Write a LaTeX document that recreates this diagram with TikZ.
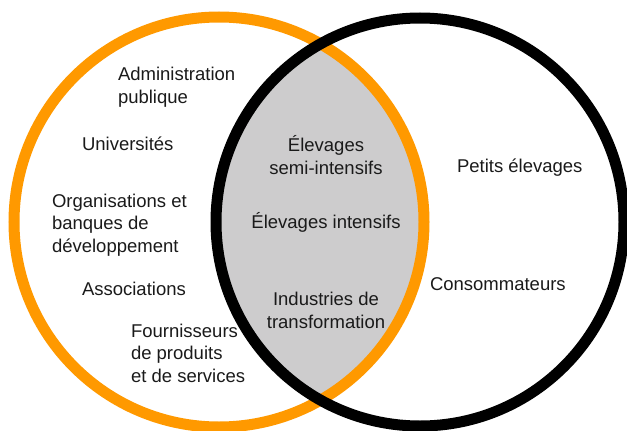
\documentclass[tikz,border=0pt]{standalone}
\usepackage{fontspec}
\setmainfont{Liberation Sans}
\definecolor{vorange}{RGB}{255,153,0}
\definecolor{vgray}{RGB}{205,204,205}
\definecolor{vtext}{RGB}{26,26,26}
\begin{document}
\begin{tikzpicture}[x=1pt,y=-1pt,
  ring/.style={line width=11pt},
  lbl/.style={inner sep=0pt,outer sep=0pt,align=left,anchor=base west,text=vtext,
    font=\fontsize{18.5}{22.5}\selectfont},
  clbl/.style={inner sep=0pt,outer sep=0pt,align=center,anchor=base,text=vtext,
    font=\fontsize{18.5}{22.5}\selectfont}]
\useasboundingbox (0,0) rectangle (627,431);
\coordinate (O) at (219,222);
\coordinate (B) at (420,222);
\begin{scope}
  \clip (O) circle[radius=205];
  \fill[vgray] (B) circle[radius=204];
\end{scope}
\draw[ring,vorange] (O) circle[radius=205];
\draw[ring,black] (B) circle[radius=204];
\node[lbl] (adm) at (118,103) {Administration\\publique};
\node[lbl] (univ) at (82,150) {Universités};
\node[lbl] (org) at (52,252) {Organisations et\\banques de\\développement};
\node[lbl] (assoc) at (82,295) {Associations};
\node[lbl] (fourn) at (131,382) {Fournisseurs\\de produits\\et de services};
\node[clbl] (semi) at (326,174) {Élevages\\semi-intensifs};
\node[clbl] (int) at (326,228) {Élevages intensifs};
\node[clbl] (ind) at (326,328) {Industries de\\transformation};
\node[lbl] (pet) at (457,172) {Petits élevages};
\node[lbl] (cons) at (430,290) {Consommateurs};
\end{tikzpicture}
\end{document}
